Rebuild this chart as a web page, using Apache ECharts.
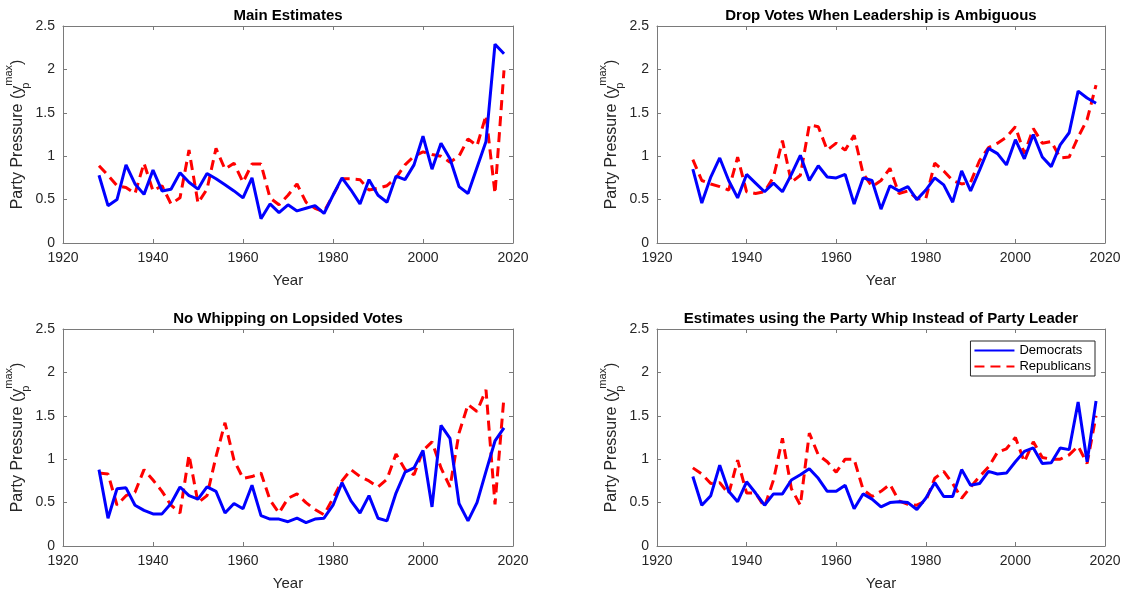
<!DOCTYPE html>
<html><head><meta charset="utf-8">
<script src="https://cdn.jsdelivr.net/npm/echarts@6/dist/echarts.min.js"></script>
<style>html,body{margin:0;padding:0;background:#fff}#c{width:1128px;height:594px}</style>
</head><body><div id="c"></div>
<script>
const years = [1928,1930,1932,1934,1936,1938,1940,1942,1944,1946,1948,1950,1952,1954,1956,1958,1960,1962,1964,1966,1968,1970,1972,1974,1976,1978,1980,1982,1984,1986,1988,1990,1992,1994,1996,1998,2000,2002,2004,2006,2008,2010,2012,2014,2016,2018];

const panelTitles = ["Main Estimates","Drop Votes When Leadership is Ambiguous","No Whipping on Lopsided Votes","Estimates using the Party Whip Instead of Party Leader"];
const seriesNames = ["Democrats","Republicans"];

const mainDem = [0.78,0.43,0.50,0.90,0.68,0.56,0.84,0.60,0.62,0.81,0.70,0.62,0.80,0.74,0.67,0.60,0.52,0.75,0.28,0.45,0.35,0.44,0.37,0.40,0.43,0.34,0.55,0.75,0.61,0.45,0.73,0.55,0.47,0.77,0.73,0.90,1.23,0.85,1.15,0.97,0.65,0.57,0.87,1.17,2.29,2.18];
const mainRep = [0.89,0.78,0.66,0.64,0.57,0.92,0.60,0.66,0.45,0.52,1.07,0.46,0.62,1.09,0.85,0.92,0.70,0.91,0.91,0.52,0.44,0.55,0.68,0.47,0.40,0.36,0.55,0.74,0.74,0.73,0.61,0.63,0.66,0.75,0.90,1.00,1.05,1.02,1.00,0.93,1.00,1.20,1.12,1.47,0.57,1.99];

const dropDem = [0.85,0.46,0.76,0.98,0.72,0.52,0.79,0.69,0.59,0.69,0.59,0.79,1.01,0.72,0.89,0.76,0.75,0.79,0.45,0.75,0.72,0.39,0.66,0.60,0.65,0.50,0.61,0.75,0.67,0.47,0.83,0.60,0.84,1.09,1.03,0.90,1.19,0.97,1.25,0.99,0.88,1.13,1.27,1.75,1.67,1.61];
const dropRep = [0.96,0.72,0.68,0.65,0.61,0.99,0.59,0.57,0.59,0.76,1.18,0.70,0.78,1.36,1.34,1.07,1.15,1.07,1.24,0.80,0.65,0.72,0.86,0.57,0.60,0.51,0.51,0.92,0.83,0.72,0.68,0.70,0.95,1.10,1.15,1.22,1.34,1.03,1.32,1.15,1.17,0.98,0.99,1.22,1.42,1.82];

const lopDem = [0.88,0.32,0.66,0.67,0.47,0.41,0.37,0.37,0.49,0.68,0.58,0.54,0.68,0.63,0.38,0.49,0.43,0.70,0.35,0.31,0.31,0.28,0.32,0.27,0.31,0.32,0.47,0.73,0.52,0.38,0.58,0.32,0.29,0.61,0.85,0.90,1.10,0.45,1.39,1.24,0.49,0.29,0.50,0.86,1.21,1.36];
const lopRep = [0.84,0.83,0.47,0.58,0.62,0.88,0.76,0.63,0.47,0.38,1.05,0.50,0.58,1.03,1.42,0.99,0.78,0.80,0.84,0.53,0.38,0.55,0.60,0.50,0.42,0.36,0.55,0.75,0.88,0.80,0.75,0.68,0.77,1.06,0.88,0.82,1.10,1.20,0.90,0.68,1.30,1.63,1.55,1.80,0.48,1.72];

const whipDem = [0.80,0.47,0.58,0.93,0.63,0.51,0.74,0.61,0.47,0.60,0.60,0.76,0.82,0.89,0.78,0.63,0.63,0.70,0.43,0.60,0.54,0.45,0.50,0.51,0.50,0.42,0.55,0.73,0.57,0.57,0.88,0.70,0.72,0.86,0.83,0.84,0.97,1.09,1.13,0.95,0.96,1.13,1.11,1.66,0.97,1.67];
const whipRep = [0.90,0.83,0.72,0.73,0.60,0.99,0.61,0.61,0.45,0.76,1.24,0.66,0.47,1.30,1.05,0.97,0.85,1.00,1.00,0.65,0.57,0.63,0.71,0.52,0.48,0.47,0.52,0.78,0.86,0.72,0.55,0.68,0.80,0.91,1.08,1.12,1.25,0.97,1.20,1.02,1.00,1.00,1.05,1.15,0.95,1.50];

const panels = [[mainDem, mainRep],[dropDem, dropRep],[lopDem, lopRep],[whipDem, whipRep]];

const FONT = '"Liberation Sans", Arial, Helvetica, sans-serif';
const AX = '#262626';
const BOX = '#7a7a7a';
const grids = [
  {left:63, top:26, width:450, height:217},
  {left:657, top:26, width:448, height:217},
  {left:63, top:329, width:450, height:217},
  {left:657, top:329, width:448, height:217}
];

const xAxes = [], yAxes = [], series = [], titles = [];
grids.forEach((g, i) => {
  titles.push({
    text: panelTitles[i], left: g.left + g.width/2, top: g.top - 18, textAlign: 'center', padding: 0,
    textStyle: {fontFamily: FONT, fontSize: 15, fontWeight: 'bold', color: '#000'}
  });
  xAxes.push({
    gridIndex: i, type: 'value', min: 1920, max: 2020, interval: 20, position: 'bottom',
    name: 'Year', nameLocation: 'middle', nameGap: 30,
    nameTextStyle: {fontFamily: FONT, fontSize: 15, color: AX},
    axisLine: {show: true, onZero: false, lineStyle: {color: BOX, width: 1}},
    axisTick: {show: true, inside: true, length: 4, lineStyle: {color: BOX}},
    axisLabel: {show: true, fontFamily: FONT, fontSize: 14, color: AX, margin: 8, formatter: v => String(v)},
    splitLine: {show: false}
  });
  xAxes.push({
    gridIndex: i, type: 'value', min: 1920, max: 2020, interval: 20, position: 'top',
    axisLine: {show: true, onZero: false, lineStyle: {color: BOX, width: 1}},
    axisTick: {show: true, inside: true, length: 4, lineStyle: {color: BOX}},
    axisLabel: {show: false}, splitLine: {show: false}
  });
  yAxes.push({
    gridIndex: i, type: 'value', min: 0, max: 2.5, interval: 0.5, position: 'left',
    name: '{a|Party Pressure (y}{p|p}{m|max}{a|)}', nameLocation: 'middle', nameGap: 30, nameRotate: 90,
    nameTextStyle: {fontFamily: FONT, fontSize: 16, color: AX,
      rich: {
        a: {fontFamily: FONT, fontSize: 16, color: AX, lineHeight: 28, verticalAlign: 'middle'},
        p: {fontFamily: FONT, fontSize: 11, color: AX, width: 0, verticalAlign: 'bottom', lineHeight: 28},
        m: {fontFamily: FONT, fontSize: 11, color: AX, verticalAlign: 'top', lineHeight: 28}
      }},
    axisLine: {show: true, onZero: false, lineStyle: {color: BOX, width: 1}},
    axisTick: {show: true, inside: true, length: 4, lineStyle: {color: BOX}},
    axisLabel: {show: true, fontFamily: FONT, fontSize: 14, color: AX, margin: 8},
    splitLine: {show: false}
  });
  yAxes.push({
    gridIndex: i, type: 'value', min: 0, max: 2.5, interval: 0.5, position: 'right',
    axisLine: {show: true, onZero: false, lineStyle: {color: BOX, width: 1}},
    axisTick: {show: true, inside: true, length: 4, lineStyle: {color: BOX}},
    axisLabel: {show: false}, splitLine: {show: false}
  });
  const [dem, rep] = panels[i];
  series.push({
    name: seriesNames[0], type: 'line', xAxisIndex: 2*i, yAxisIndex: 2*i,
    data: years.map((y, k) => [y, dem[k]]), symbol: 'none', animation: false,
    lineStyle: {color: '#0000ff', width: 3, type: 'solid'}, itemStyle: {color: '#0000ff'}, z: 3
  });
  series.push({
    name: seriesNames[1], type: 'line', xAxisIndex: 2*i, yAxisIndex: 2*i,
    data: years.map((y, k) => [y, rep[k]]), symbol: 'none', animation: false,
    lineStyle: {color: '#ff0000', width: 3, type: [10, 6]}, itemStyle: {color: '#ff0000'}, z: 2
  });
});

const chart = echarts.init(document.getElementById('c'), null, {renderer: 'canvas'});
chart.setOption({
  animation: false,
  backgroundColor: '#fff',
  title: titles,
  grid: grids,
  xAxis: xAxes,
  yAxis: yAxes,
  legend: {
    data: seriesNames, orient: 'vertical', right: 33, top: 341,
    itemWidth: 40, itemHeight: 12, itemGap: 3, padding: [3, 4, 3, 3],
    borderColor: '#262626', borderWidth: 1, backgroundColor: '#fff',
    itemStyle: {opacity: 0},
    textStyle: {fontFamily: FONT, fontSize: 13, color: '#000'}
  },
  series: series
});
</script></body></html>
